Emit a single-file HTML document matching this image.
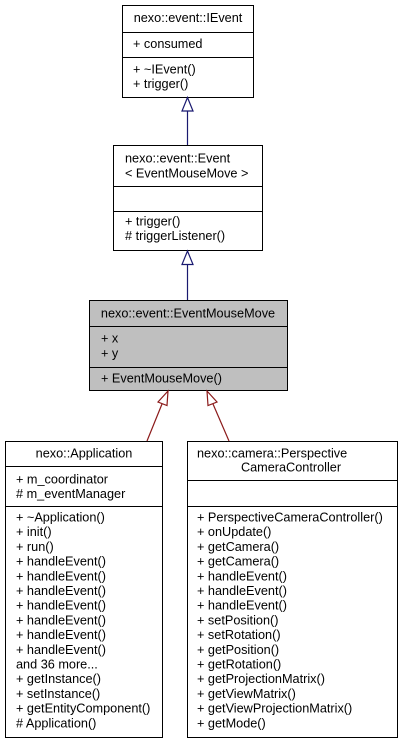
<!DOCTYPE html>
<html><head><meta charset="utf-8"><style>
html,body{margin:0;padding:0;background:#fff;}
svg{display:block}
text{font-family:"Liberation Sans",Arial,sans-serif;font-size:12.7px;fill:#000}
</style></head><body>
<svg width="403" height="743" viewBox="0 0 403 743" xmlns="http://www.w3.org/2000/svg">
<g stroke="#000" stroke-width="1" fill="#fff">
<rect x="122.5" y="5.5" width="131" height="92"/>
<line x1="122.5" y1="32.5" x2="253.5" y2="32.5"/>
<line x1="122.5" y1="57.5" x2="253.5" y2="57.5"/>
<rect x="113.5" y="145.5" width="149" height="105"/>
<line x1="113.5" y1="186.5" x2="262.5" y2="186.5"/>
<line x1="113.5" y1="211.5" x2="262.5" y2="211.5"/>
<rect x="89.5" y="300.5" width="198" height="90" fill="#bfbfbf"/>
<line x1="89.5" y1="326.5" x2="287.5" y2="326.5"/>
<line x1="89.5" y1="367.5" x2="287.5" y2="367.5"/>
<rect x="5.5" y="441.5" width="157" height="296"/>
<line x1="5.5" y1="466.5" x2="162.5" y2="466.5"/>
<line x1="5.5" y1="506.5" x2="162.5" y2="506.5"/>
<rect x="187.5" y="441.5" width="210" height="296"/>
<line x1="187.5" y1="480.5" x2="397.5" y2="480.5"/>
<line x1="187.5" y1="506.5" x2="397.5" y2="506.5"/>
</g>
<g stroke="#191970" stroke-width="1.2" fill="#fff">
<line x1="187.5" y1="145" x2="187.5" y2="110"/>
<polygon points="187.5,97.5 182,111 193,111"/>
<line x1="187.5" y1="300" x2="187.5" y2="264"/>
<polygon points="187.5,251 182,264.5 193,264.5"/>
</g>
<g stroke="#8b1a1a" stroke-width="1.2" fill="#fff">
<line x1="147" y1="441" x2="162" y2="404"/>
<polygon points="168,391 158,402 167,405.5"/>
<line x1="229" y1="441" x2="213" y2="404"/>
<polygon points="207,391 208,405.5 217,402"/>
</g>
<text x="188" y="22" text-anchor="middle">nexo::event::IEvent</text>
<text x="133" y="48">+ consumed</text>
<text x="133" y="73.5">+ ~IEvent()</text>
<text x="133" y="88.2">+ trigger()</text>
<text x="125" y="162.5">nexo::event::Event</text>
<text x="125" y="177.5">&lt; EventMouseMove &gt;</text>
<text x="125" y="225.5">+ trigger()</text>
<text x="125" y="240.2"># triggerListener()</text>
<text x="188" y="317.5" text-anchor="middle">nexo::event::EventMouseMove</text>
<text x="101" y="342.5">+ x</text>
<text x="101" y="357.5">+ y</text>
<text x="101" y="382.5">+ EventMouseMove()</text>
<text x="84" y="457.5" text-anchor="middle">nexo::Application</text>
<text x="16" y="483.5">+ m_coordinator</text>
<text x="16" y="498.2"># m_eventManager</text>
<g>
<text x="16" y="521.5">+ ~Application()</text>
<text x="16" y="536.2">+ init()</text>
<text x="16" y="550.9">+ run()</text>
<text x="16" y="565.6">+ handleEvent()</text>
<text x="16" y="580.3">+ handleEvent()</text>
<text x="16" y="595">+ handleEvent()</text>
<text x="16" y="609.7">+ handleEvent()</text>
<text x="16" y="624.4">+ handleEvent()</text>
<text x="16" y="639.1">+ handleEvent()</text>
<text x="16" y="653.8">+ handleEvent()</text>
<text x="16" y="668.5">and 36 more...</text>
<text x="16" y="683.2">+ getInstance()</text>
<text x="16" y="697.9">+ setInstance()</text>
<text x="16" y="712.6">+ getEntityComponent()</text>
<text x="16" y="727.3"># Application()</text>
</g>
<text x="197" y="457.5">nexo::camera::Perspective</text>
<text x="291" y="471.5" text-anchor="middle">CameraController</text>
<g>
<text x="197" y="521.5">+ PerspectiveCameraController()</text>
<text x="197" y="536.2">+ onUpdate()</text>
<text x="197" y="550.9">+ getCamera()</text>
<text x="197" y="565.6">+ getCamera()</text>
<text x="197" y="580.3">+ handleEvent()</text>
<text x="197" y="595">+ handleEvent()</text>
<text x="197" y="609.7">+ handleEvent()</text>
<text x="197" y="624.4">+ setPosition()</text>
<text x="197" y="639.1">+ setRotation()</text>
<text x="197" y="653.8">+ getPosition()</text>
<text x="197" y="668.5">+ getRotation()</text>
<text x="197" y="683.2">+ getProjectionMatrix()</text>
<text x="197" y="697.9">+ getViewMatrix()</text>
<text x="197" y="712.6">+ getViewProjectionMatrix()</text>
<text x="197" y="727.3">+ getMode()</text>
</g>
</svg>
</body></html>
